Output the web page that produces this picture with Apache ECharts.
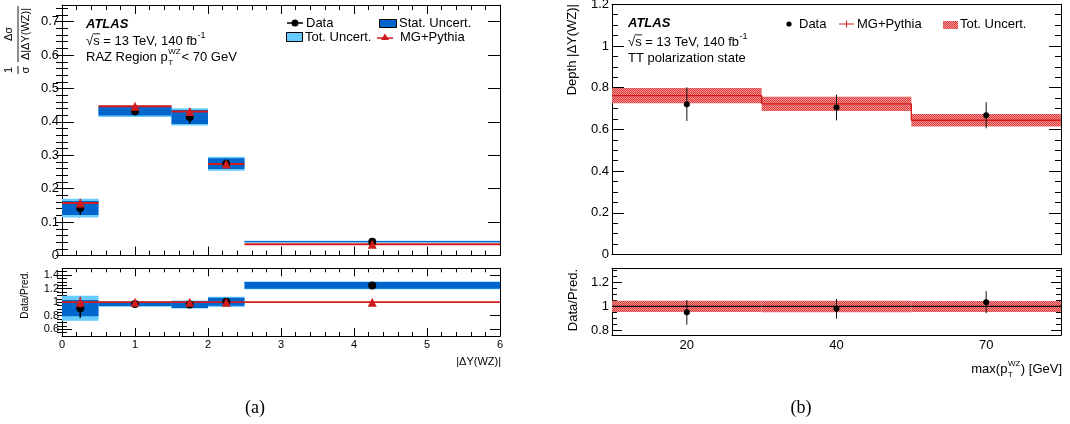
<!DOCTYPE html>
<html><head><meta charset="utf-8">
<script src="https://cdn.jsdelivr.net/npm/echarts@6/dist/echarts.min.js"></script>
<style>html,body{margin:0;padding:0;background:#fff}#c{width:1070px;height:424px}</style>
</head><body><div id="c"></div>
<script>
// ================= Panel (a) : 1/sigma dsigma/d|dY(WZ)| =================
const binLo      = [0, 0.5, 1.5, 2.0, 2.5];
const binHi      = [0.5, 1.5, 2.0, 2.5, 6.0];
const binCenter  = [0.25, 1.0, 1.75, 2.25, 4.25];
const dataXsec   = [0.142, 0.432, 0.415, 0.275, 0.0415];
const dataErrXsec= [0.020, 0.012, 0.020, 0.012, 0.002];
const statXsec   = [0.021, 0.013, 0.021, 0.016, 0.002];
const totXsec    = [0.028, 0.017, 0.026, 0.021, 0.0028];
const mgXsec     = [0.157, 0.447, 0.431, 0.274, 0.0336];
const mgErrXsec  = [0.012, 0.006, 0.010, 0.004, 0.001];
// ratio Data/Pred.
const dataRatio   = [0.91, 0.972, 0.965, 1.005, 1.247];
const dataErrRatio= [0.14, 0.03, 0.05, 0.05, 0.03];
const statRatio   = [0.12, 0.03, 0.05, 0.06, 0.05];
const totRatio    = [0.185, 0.04, 0.06, 0.075, 0.058];
const mgRatio     = [1, 1, 1, 1, 1];
const mgErrRatio  = [0.08, 0.02, 0.03, 0.02, 0.015];

// ================= Panel (b) : Depth |dY(WZ)| vs max(pT^WZ) =================
const ptCats        = ['20', '40', '70'];
const depthData     = [0.721, 0.705, 0.668];
const depthDataErr  = [0.081, 0.062, 0.063];
const depthMG       = [0.762, 0.7225, 0.644];
const depthTot      = [0.036, 0.0345, 0.0295];
const depthRatio    = [0.95, 0.98, 1.036];
const depthRatioErr = [0.103, 0.083, 0.093];
const depthMGRatio  = [1, 1, 1];
const depthRatioTot = [0.047, 0.048, 0.046];

// ================= Tick labels =================
const aYTicks  = [0, 0.1, 0.2, 0.3, 0.4, 0.5, 0.6, 0.7];
const aRYTicks = [0.6, 0.8, 1, 1.2, 1.4];
const bYTicks  = [0, 0.2, 0.4, 0.6, 0.8, 1, 1.2];
const bRYTicks = [0.8, 1, 1.2];
function steps(a, b, s) { const r = []; for (let i = 0; a + i * s <= b + 1e-9; i++) r.push(+(a + i * s).toFixed(4)); return r; }
const aYMinor  = steps(0, 0.74, 0.02);
const aRYMinor = steps(0.55, 1.45, 0.05);
const bYMinor  = steps(0, 1.2, 0.05);
const bRYMinor = steps(0.8, 1.3, 0.05);

// ================= Styles =================
const FONT = '"Liberation Sans", Arial, Helvetica, sans-serif';
const STAT = '#0066cc', TOT = '#66ccff', RED = '#d01c1c', BLK = '#000';
const pc = document.createElement('canvas'); pc.width = 2; pc.height = 2;
const pctx = pc.getContext('2d');
pctx.fillStyle = '#f29494'; pctx.fillRect(0, 0, 2, 2);
pctx.fillStyle = '#dc3a3a'; pctx.fillRect(0, 0, 1, 1); pctx.fillRect(1, 1, 1, 1);
const HATCH = { image: pc, repeat: 'repeat' };

const chart = echarts.init(document.getElementById('c'));
const mctx = document.createElement('canvas').getContext('2d');
function tw(t, size, extra) { mctx.font = (extra || '') + size + 'px ' + FONT; return mctx.measureText(t).width; }

const fmt = v => String(+(+v).toFixed(2));
function yPair(grid, pos, min, max, majors, minors, majLen, minLen, labelSize) {
  const base = { gridIndex: grid, type: 'value', min, max, position: pos, splitLine: { show: false } };
  return [
    Object.assign({}, base, {
      axisLine: { show: true, onZero: false, lineStyle: { color: BLK, width: 1 } },
      axisTick: { show: true, inside: true, length: majLen, customValues: majors, lineStyle: { color: BLK } },
      axisLabel: labelSize ? { show: true, customValues: majors, fontSize: labelSize, color: BLK, margin: 3, fontFamily: FONT, formatter: fmt } : { show: false }
    }),
    Object.assign({}, base, {
      axisLine: { show: false },
      axisTick: { show: true, inside: true, length: minLen, customValues: minors, lineStyle: { color: BLK } },
      axisLabel: { show: false }
    })
  ];
}
const yAxes = [].concat(
  yPair(0, 'left', 0, 0.75, aYTicks, aYMinor, 12, 6, 13),
  yPair(0, 'right', 0, 0.75, aYTicks, aYMinor, 12, 6, 0),
  yPair(1, 'left', 0.5, 1.5, aRYTicks, aRYMinor, 10, 5, 11),
  yPair(1, 'right', 0.5, 1.5, aRYTicks, aRYMinor, 10, 5, 0),
  yPair(2, 'left', 0, 1.2, bYTicks, bYMinor, 12, 6, 13),
  yPair(2, 'right', 0, 1.2, bYTicks, bYMinor, 12, 6, 0),
  yPair(3, 'left', 0.76, 1.32, bRYTicks, bRYMinor, 10, 5, 13),
  yPair(3, 'right', 0.76, 1.32, bRYTicks, bRYMinor, 10, 5, 0)
);
function xVal(grid, pos, labels, majLen, minLen) {
  return { gridIndex: grid, type: 'value', min: 0, max: 6, interval: 1, position: pos, splitLine: { show: false },
    axisLine: { onZero: false, lineStyle: { color: BLK } },
    axisTick: { inside: true, length: majLen, lineStyle: { color: BLK } },
    minorTick: { show: true, splitNumber: 5, length: minLen, lineStyle: { color: BLK } },
    axisLabel: labels ? { show: true, fontSize: 11, color: BLK, margin: 3, fontFamily: FONT } : { show: false } };
}
function xCat(grid, pos, labels, len) {
  return { gridIndex: grid, type: 'category', data: ptCats, boundaryGap: true, position: pos, splitLine: { show: false },
    axisLine: { onZero: false, lineStyle: { color: BLK } },
    axisTick: { inside: true, length: len, alignWithLabel: false, lineStyle: { color: BLK } },
    axisLabel: labels ? { show: true, fontSize: 13, color: BLK, margin: 4, fontFamily: FONT } : { show: false } };
}
const xAxes = [
  xVal(0, 'bottom', false, 9, 5), xVal(0, 'top', false, 9, 5),
  xVal(1, 'bottom', true, 8, 4), xVal(1, 'top', false, 8, 4),
  xCat(2, 'bottom', false, 12), xCat(2, 'top', false, 12),
  xCat(3, 'bottom', true, 10), xCat(3, 'top', false, 10)
];

// ---------- render helpers ----------
function boxVal(fill) {
  return function (p, api) {
    const a = api.coord([api.value(0), api.value(2) + api.value(3)]);
    const b = api.coord([api.value(1), api.value(2) - api.value(3)]);
    return { type: 'rect', shape: { x: a[0], y: a[1], width: b[0] - a[0], height: Math.max(b[1] - a[1], 1.2) }, style: { fill } };
  };
}
function hlineVal(color, w) {
  return function (p, api) {
    const a = api.coord([api.value(0), api.value(2)]);
    const b = api.coord([api.value(1), api.value(2)]);
    return { type: 'line', shape: { x1: a[0], y1: a[1], x2: b[0], y2: b[1] }, style: { stroke: color, lineWidth: w } };
  };
}
function errBar(color, w) {
  return function (p, api) {
    const a = api.coord([api.value(0), api.value(1) + api.value(2)]);
    const b = api.coord([api.value(0), api.value(1) - api.value(2)]);
    return { type: 'line', shape: { x1: a[0], y1: a[1], x2: b[0], y2: b[1] }, style: { stroke: color, lineWidth: w } };
  };
}
function boxCat(fill) {
  return function (p, api) {
    const bw = api.size([1, 0])[0];
    const a = api.coord([api.value(0), api.value(1) + api.value(2)]);
    const b = api.coord([api.value(0), api.value(1) - api.value(2)]);
    return { type: 'rect', shape: { x: a[0] - bw / 2, y: a[1], width: bw, height: b[1] - a[1] }, style: { fill } };
  };
}
function stepCat(color, w) {
  return function (p, api) {
    const bw = api.size([1, 0])[0];
    const c = api.coord([api.value(0), api.value(1)]);
    const ch = [{ type: 'line', shape: { x1: c[0] - bw / 2, y1: c[1], x2: c[0] + bw / 2, y2: c[1] }, style: { stroke: color, lineWidth: w } }];
    if (api.value(0) > 0) {
      const pv = api.coord([api.value(0), api.value(2)]);
      ch.push({ type: 'line', shape: { x1: c[0] - bw / 2, y1: pv[1], x2: c[0] - bw / 2, y2: c[1] }, style: { stroke: color, lineWidth: w } });
    }
    return { type: 'group', children: ch };
  };
}
function cust(name, xi, yi, data, render, z) {
  return { type: 'custom', name, xAxisIndex: xi, yAxisIndex: yi, data, renderItem: render, z: z || 2, silent: true, animation: false, clip: false };
}
function scat(name, xi, yi, data, symbol, size, color, z) {
  return { type: 'scatter', name, xAxisIndex: xi, yAxisIndex: yi, data, symbol, symbolSize: size, itemStyle: { color, opacity: 1 }, z: z || 5, silent: true, animation: false };
}

const A = binLo.map((lo, i) => i);
const series = [
  // (a) top
  cust('Tot. Uncert.', 0, 0, A.map(i => [binLo[i], binHi[i], dataXsec[i], totXsec[i]]), boxVal(TOT), 2),
  cust('Stat. Uncert.', 0, 0, A.map(i => [binLo[i], binHi[i], dataXsec[i], statXsec[i]]), boxVal(STAT), 3),
  cust('MG line', 0, 0, A.map(i => [binLo[i], binHi[i], mgXsec[i]]), hlineVal(RED, 2), 4),
  cust('Data err', 0, 0, A.map(i => [binCenter[i], dataXsec[i], dataErrXsec[i]]), errBar(BLK, 1.6), 5),
  scat('Data', 0, 0, A.map(i => [binCenter[i], dataXsec[i]]), 'circle', 8, BLK, 6),
  cust('MG err', 0, 0, A.map(i => [binCenter[i], mgXsec[i], mgErrXsec[i]]), errBar(RED, 1.6), 7),
  scat('MG+Pythia', 0, 0, A.map(i => [binCenter[i], mgXsec[i]]), 'triangle', 9, RED, 8),
  // (a) ratio
  cust('Tot. Uncert. r', 2, 4, A.map(i => [binLo[i], binHi[i], dataRatio[i], totRatio[i]]), boxVal(TOT), 2),
  cust('Stat. Uncert. r', 2, 4, A.map(i => [binLo[i], binHi[i], dataRatio[i], statRatio[i]]), boxVal(STAT), 3),
  cust('MG line r', 2, 4, A.map(i => [binLo[i], binHi[i], mgRatio[i]]), hlineVal(RED, 1.6), 4),
  cust('Data err r', 2, 4, A.map(i => [binCenter[i], dataRatio[i], dataErrRatio[i]]), errBar(BLK, 1.6), 5),
  scat('Data r', 2, 4, A.map(i => [binCenter[i], dataRatio[i]]), 'circle', 8, BLK, 6),
  cust('MG err r', 2, 4, A.map(i => [binCenter[i], mgRatio[i], mgErrRatio[i]]), errBar(RED, 1.6), 7),
  scat('MG r', 2, 4, A.map(i => [binCenter[i], mgRatio[i]]), 'triangle', 9, RED, 8),
  // (b) top
  cust('Tot band', 4, 8, ptCats.map((c, i) => [i, depthMG[i], depthTot[i]]), boxCat(HATCH), 2),
  cust('MG step', 4, 8, ptCats.map((c, i) => [i, depthMG[i], i > 0 ? depthMG[i - 1] : depthMG[i]]), stepCat(RED, 1.3), 3),
  cust('Data err b', 4, 8, ptCats.map((c, i) => [i, depthData[i], depthDataErr[i]]), errBar('#111', 1), 4),
  scat('Data b', 4, 8, ptCats.map((c, i) => [i, depthData[i]]), 'circle', 6, BLK, 5),
  // (b) ratio
  cust('Tot band r', 6, 12, ptCats.map((c, i) => [i, depthMGRatio[i], depthRatioTot[i]]), boxCat(HATCH), 2),
  cust('MG r line', 6, 12, ptCats.map((c, i) => [i, depthMGRatio[i], i > 0 ? depthMGRatio[i - 1] : depthMGRatio[i]]), stepCat(BLK, 1.2), 3),
  cust('Data err br', 6, 12, ptCats.map((c, i) => [i, depthRatio[i], depthRatioErr[i]]), errBar('#111', 1), 4),
  scat('Data br', 6, 12, ptCats.map((c, i) => [i, depthRatio[i]]), 'circle', 6, BLK, 5)
];

// ---------- graphic texts ----------
const g = [];
function T(x, y, text, size, o) {
  g.push({ type: 'text', x, y, z: 100, silent: true, style: Object.assign({ text, fill: BLK, font: size + 'px ' + FONT, align: 'left', verticalAlign: 'middle' }, o || {}) });
}
function L(x1, y1, x2, y2, c, w) { g.push({ type: 'line', z: 100, silent: true, shape: { x1, y1, x2, y2 }, style: { stroke: c, lineWidth: w || 1 } }); }
function sqrtLine(x, y, size) {
  const w1 = tw('\u221A', size), w2 = tw('s', size);
  T(x, y, '\u221A', size);
  L(x + w1 - 0.5, y - size * 0.55, x + w1 + w2 + 0.5, y - size * 0.55, BLK, 0.9);
  const main = 's = 13 TeV, 140 fb';
  T(x + w1, y, main, size);
  T(x + w1 + tw(main, size) + 0.5, y - 5, '-1', 9);
}
// (a) texts
T(86, 24, 'ATLAS', 13, { font: 'italic bold 13px ' + FONT });
sqrtLine(86, 41, 13);
(function () {
  const x = 86, y = 57, s = 13, t1 = 'RAZ Region p';
  T(x, y, t1, s);
  const x2 = x + tw(t1, s) + 0.5;
  T(x2, y - 5, 'WZ', 8);
  T(x2, y + 6, 'T', 8);
  T(x2 + Math.max(tw('WZ', 8), tw('T', 8)) + 1, y, '< 70 GeV', s);
})();
// (a) legend
L(287, 23, 303, 23, BLK, 1.5);
g.push({ type: 'circle', z: 100, shape: { cx: 295, cy: 23, r: 3.5 }, style: { fill: BLK } });
T(306, 23, 'Data', 13);
g.push({ type: 'rect', z: 100, shape: { x: 379.5, y: 19.5, width: 17, height: 8 }, style: { fill: STAT, stroke: BLK, lineWidth: 1 } });
T(399, 23, 'Stat. Uncert.', 13);
g.push({ type: 'rect', z: 100, shape: { x: 286.5, y: 32.5, width: 16, height: 9 }, style: { fill: TOT, stroke: BLK, lineWidth: 1 } });
T(305, 37, 'Tot. Uncert.', 13);
L(377, 38, 393, 38, RED, 1.5);
g.push({ type: 'polygon', z: 100, shape: { points: [[385, 33.5], [381, 40], [389, 40]] }, style: { fill: RED } });
T(400, 37, 'MG+Pythia', 13);
// (a) axis titles
g.push({ type: 'group', x: 18, y: 70, rotation: Math.PI / 2, z: 100, silent: true, children: [
  { type: 'text', x: 0, y: -9, style: { text: '1', font: '11px ' + FONT, fill: BLK, align: 'center', verticalAlign: 'middle' } },
  { type: 'text', x: 0, y: 8, style: { text: '\u03C3', font: '11px ' + FONT, fill: BLK, align: 'center', verticalAlign: 'middle' } },
  { type: 'line', shape: { x1: -4, y1: 0, x2: 4, y2: 0 }, style: { stroke: BLK, lineWidth: 0.9 } },
  { type: 'text', x: 36, y: -9, style: { text: '\u0394\u03C3', font: '11px ' + FONT, fill: BLK, align: 'center', verticalAlign: 'middle' } },
  { type: 'text', x: 36, y: 8, style: { text: '\u0394|\u0394Y(WZ)|', font: '11px ' + FONT, fill: BLK, align: 'center', verticalAlign: 'middle' } },
  { type: 'line', shape: { x1: 8, y1: 0, x2: 64, y2: 0 }, style: { stroke: BLK, lineWidth: 0.9 } }
] });
g.push({ type: 'text', x: 25, y: 271, rotation: Math.PI / 2, z: 100, silent: true, style: { text: 'Data/Pred.', font: '10px ' + FONT, fill: BLK, align: 'right', verticalAlign: 'middle' } });
T(501, 362, '|\u0394Y(WZ)|', 11, { align: 'right' });

// (b) texts
T(628, 23, 'ATLAS', 13, { font: 'italic bold 13px ' + FONT });
sqrtLine(628, 42, 13);
T(628, 58, 'TT polarization state', 13);
// (b) legend
g.push({ type: 'circle', z: 100, shape: { cx: 789, cy: 24, r: 2.6 }, style: { fill: BLK } });
T(799, 24, 'Data', 13);
L(839, 24, 854, 24, RED, 1);
L(846.5, 20.5, 846.5, 27.5, RED, 1);
T(857, 24, 'MG+Pythia', 13);
g.push({ type: 'rect', z: 100, shape: { x: 943, y: 21, width: 15, height: 8 }, style: { fill: HATCH } });
T(960, 24, 'Tot. Uncert.', 13);
// (b) axis titles
g.push({ type: 'text', x: 572, y: 4, rotation: Math.PI / 2, z: 100, silent: true, style: { text: 'Depth |\u0394Y(WZ)|', font: '13px ' + FONT, fill: BLK, align: 'right', verticalAlign: 'middle' } });
g.push({ type: 'text', x: 573, y: 269, rotation: Math.PI / 2, z: 100, silent: true, style: { text: 'Data/Pred.', font: '13px ' + FONT, fill: BLK, align: 'right', verticalAlign: 'middle' } });
(function () {
  const s = 13, y = 369, t1 = 'max(p', t2 = ') [GeV]';
  const wsub = Math.max(tw('WZ', 8), tw('T', 8)) + 1;
  const total = tw(t1, s) + wsub + tw(t2, s);
  const x0 = 1062 - total;
  T(x0, y, t1, s);
  const xs = x0 + tw(t1, s) + 0.5;
  T(xs, y - 5, 'WZ', 8);
  T(xs, y + 6, 'T', 8);
  T(xs + wsub - 0.5, y, t2, s);
})();
// captions
T(255, 408, '(a)', 18, { font: '18px "Liberation Serif", "Times New Roman", serif', align: 'center' });
T(801, 408, '(b)', 18, { font: '18px "Liberation Serif", "Times New Roman", serif', align: 'center' });

chart.setOption({
  animation: false,
  backgroundColor: '#fff',
  textStyle: { fontFamily: FONT },
  grid: [
    { left: 62, top: 5, width: 438, height: 250.5, outerBoundsMode: 'none', containLabel: false },
    { left: 62, top: 268.3, width: 438, height: 67.7, outerBoundsMode: 'none', containLabel: false },
    { left: 612, top: 4.3, width: 449, height: 250.2, outerBoundsMode: 'none', containLabel: false },
    { left: 612, top: 268.3, width: 449, height: 66.7, outerBoundsMode: 'none', containLabel: false }
  ],
  xAxis: xAxes,
  yAxis: yAxes,
  series,
  graphic: g
});
</script></body></html>
